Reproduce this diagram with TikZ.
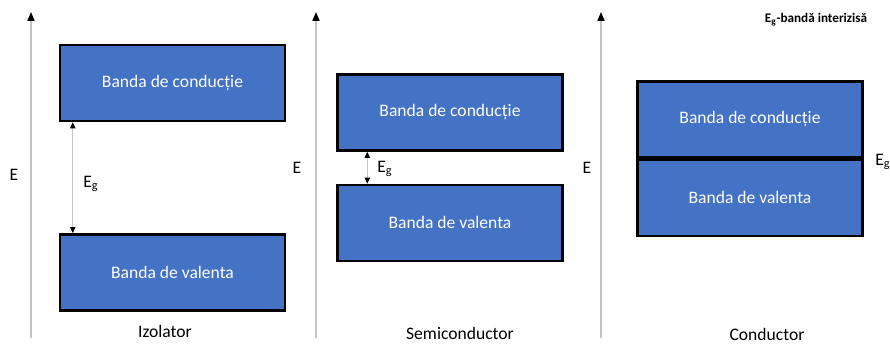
\documentclass[tikz,border=0pt]{standalone}
\usepackage{fontspec}
\setmainfont{Carlito}
\usetikzlibrary{arrows.meta,positioning}
\definecolor{bandblue}{RGB}{68,114,196}
\definecolor{axisgray}{RGB}{195,195,195}

\begin{document}
\begin{tikzpicture}[
    x=0.02cm,y=-0.02cm,
    node distance=0.64cm,
    band/.style={rectangle,draw=black,line width=1.4pt,fill=bandblue,
                 minimum width=4.5cm,minimum height=1.52cm,inner sep=0pt,
                 text=white,font=\fontsize{10}{12}\selectfont},
    axis/.style={-{Triangle[length=5pt,width=4pt,color=black]},axisgray,line width=0.8pt},
    gap/.style={{Triangle[length=3.5pt,width=3pt,color=black]}-{Triangle[length=3.5pt,width=3pt,color=black]},
                axisgray,line width=0.6pt},
    lbl/.style={font=\fontsize{10}{12}\selectfont,inner sep=0pt}
  ]
    \useasboundingbox (0,0) rectangle (890,347);
    % energy axes
    \foreach \ax/\xx in {a1/31,a2/316,a3/601}{
      \coordinate (\ax b) at (\xx,338);
      \coordinate (\ax t) at (\xx,12);
      \draw[axis] (\ax b) -- (\ax t);
    }
    \node[lbl] (e1) at (14,175) {E};
    \node[lbl] (e2) at (297,168) {E};
    \node[lbl] (e3) at (587,168) {E};

    % izolator
    \node[band] (cb1) at (172.5,83) {Banda de conducție};
    \node[band,below=2.22cm of cb1] (vb1) {Banda de valenta};
    \draw[gap] ([xshift=0.28cm]cb1.south west) -- ([xshift=0.28cm]vb1.north west);
    \node[lbl] (eg1) at (91,184) {E\textsubscript{g}};
    \node[lbl] (t1) at (165,331) {Izolator};

    % semiconductor
    \node[band] (cb2) at (450,112.5) {Banda de conducție};
    \node[band,below=of cb2] (vb2) {Banda de valenta};
    \draw[gap] ([xshift=0.62cm]cb2.south west) -- ([xshift=0.62cm]vb2.north west);
    \node[lbl] (eg2) at (385,169) {E\textsubscript{g}};
    \node[lbl] (t2) at (460,333) {Semiconductor};

    % conductor
    \node[band] (cb3) at (750,119.5) {Banda de conducție};
    \node[band,below=0pt of cb3] (vb3) {Banda de valenta};
    \draw[line width=2.6pt] (cb3.south west) -- (cb3.south east);
    \node[lbl] (eg3) at (883,162) {E\textsubscript{g}};
    \node[lbl] (t3) at (767,334) {Conductor};

    \node[lbl,font=\bfseries\fontsize{7.5}{9}\selectfont] (leg) at (816,20) {E\textsubscript{g}-bandă interizisă};
  \end{tikzpicture}
\end{document}
